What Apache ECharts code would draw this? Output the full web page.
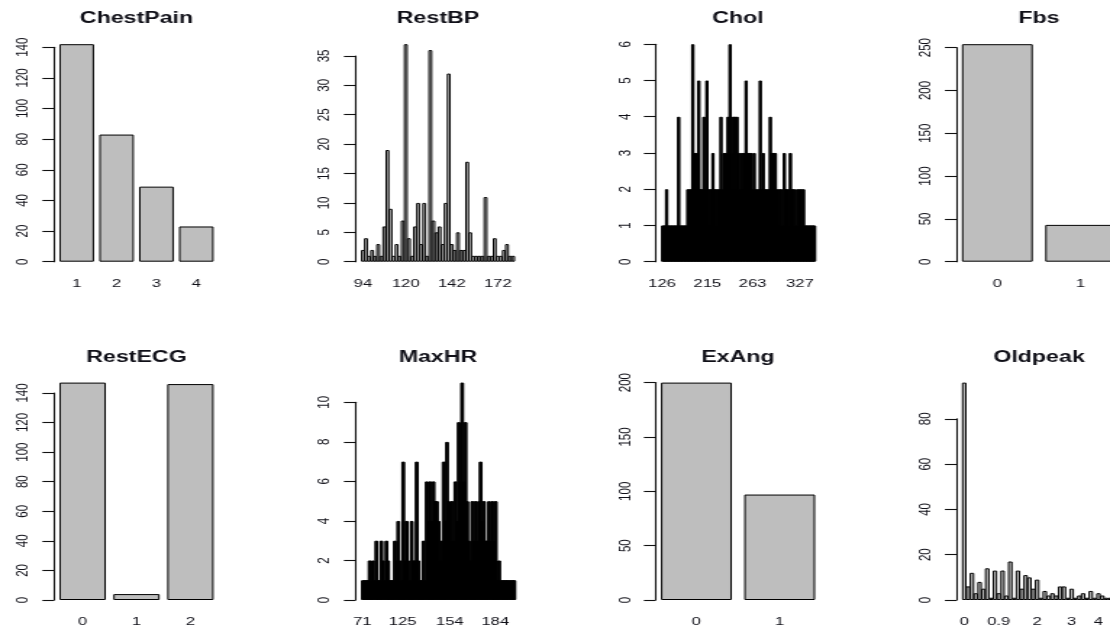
<!DOCTYPE html>
<html>
<head>
<meta charset="utf-8">
<script src="https://cdn.jsdelivr.net/npm/echarts@6/dist/echarts.min.js"></script>
<style>
  html, body { margin: 0; padding: 0; background: #fff; overflow: hidden; }
  /* the figure is laid out on a narrower surface and widened horizontally */
  #chart { width: 766px; height: 630px; transform: scaleX(1.44909); transform-origin: 0 0; }
</style>
</head>
<body>
<div id="chart"></div>
<script>
// ---- frequency tables of the Heart data (one bar per observed level) ----
const chestPainLevels = ['1', '2', '3', '4'];
const chestPainCounts = [142, 83, 49, 23];

const restBPLevels = [94, 100, 101, 102, 104, 105, 106, 108, 110, 112,
  114, 115, 117, 118, 120, 122, 123, 124, 125, 126,
  128, 129, 130, 132, 134, 135, 136, 138, 140, 142,
  144, 145, 146, 148, 150, 152, 154, 155, 156, 158,
  160, 164, 165, 170, 172, 174, 178, 180, 192, 200];
const restBPCounts = [2, 4, 1, 2, 1, 3, 1, 6, 19, 9,
  1, 3, 1, 7, 37, 4, 1, 6, 10, 3,
  10, 1, 36, 7, 5, 6, 3, 10, 32, 3,
  2, 5, 2, 2, 17, 5, 1, 1, 1, 1,
  11, 1, 1, 4, 1, 1, 2, 3, 1, 1];
const restBPShown = [0, 14, 29, 44];

const cholLevels = [126, 131, 141, 149, 157, 160, 164, 166, 167, 168,
  169, 172, 174, 175, 176, 177, 178, 180, 182, 183,
  184, 185, 186, 187, 188, 192, 193, 195, 196, 197,
  198, 199, 200, 201, 203, 204, 205, 206, 207, 208,
  209, 210, 211, 212, 213, 215, 216, 217, 218, 219,
  220, 221, 222, 223, 224, 225, 226, 227, 228, 229,
  230, 231, 232, 233, 234, 235, 236, 237, 239, 240,
  241, 242, 243, 244, 245, 246, 247, 248, 249, 250,
  252, 253, 254, 255, 256, 257, 258, 259, 260, 261,
  263, 264, 265, 266, 267, 268, 269, 270, 271, 273,
  274, 275, 276, 277, 278, 281, 282, 283, 284, 286,
  288, 289, 290, 293, 294, 295, 298, 299, 300, 302,
  303, 304, 305, 306, 307, 308, 309, 311, 313, 315,
  316, 318, 319, 321, 322, 325, 326, 327, 330, 335,
  340, 341, 342, 353, 354, 360, 369, 394, 407, 409,
  417, 564];
const cholCounts = [1, 1, 1, 1, 2, 1, 1, 1, 1, 1,
  1, 1, 1, 1, 1, 1, 4, 1, 1, 1,
  1, 1, 1, 1, 1, 2, 1, 2, 1, 2,
  6, 3, 2, 3, 2, 3, 5, 2, 2, 1,
  2, 4, 2, 1, 5, 2, 1, 2, 1, 2,
  3, 2, 1, 2, 1, 2, 1, 2, 4, 2,
  1, 3, 2, 3, 2, 4, 2, 6, 3, 2,
  4, 2, 4, 2, 4, 2, 3, 2, 2, 3,
  2, 3, 2, 5, 3, 2, 3, 2, 3, 2,
  1, 3, 2, 1, 2, 1, 2, 5, 2, 1,
  3, 2, 2, 1, 2, 1, 2, 4, 2, 3,
  3, 2, 3, 1, 2, 1, 2, 1, 2, 1,
  1, 3, 2, 2, 1, 2, 1, 3, 2, 2,
  1, 2, 1, 1, 2, 1, 2, 1, 2, 1,
  2, 1, 1, 1, 1, 1, 1, 1, 1, 1,
  1, 1];
const cholShown = [0, 45, 90, 137];

const fbsLevels = ['0', '1'];
const fbsCounts = [254, 43];

const restECGLevels = ['0', '1', '2'];
const restECGCounts = [147, 4, 146];

const maxHRLevels = [71, 88, 90, 95, 97, 99, 103, 105, 106, 108,
  109, 111, 112, 113, 114, 115, 116, 117, 118, 120,
  121, 122, 123, 124, 125, 126, 127, 128, 129, 130,
  131, 132, 133, 134, 136, 137, 138, 139, 140, 141,
  142, 143, 144, 145, 146, 147, 148, 149, 150, 151,
  152, 153, 154, 155, 156, 157, 158, 159, 160, 161,
  162, 163, 164, 165, 166, 167, 168, 169, 170, 171,
  172, 173, 174, 175, 177, 178, 179, 180, 182, 184,
  185, 186, 187, 188, 189, 190, 191, 192, 194, 195, 202];
const maxHRCounts = [1, 1, 1, 1, 2, 1, 2, 1, 3, 1,
  1, 3, 2, 1, 3, 2, 1, 1, 1, 3,
  2, 4, 2, 1, 7, 2, 4, 2, 1, 4,
  2, 2, 7, 2, 1, 1, 3, 1, 6, 4,
  6, 4, 6, 5, 5, 4, 2, 3, 7, 4,
  8, 5, 3, 5, 3, 6, 4, 9, 6, 11,
  6, 9, 5, 3, 2, 5, 3, 5, 3, 5,
  7, 4, 5, 3, 3, 5, 3, 5, 3, 5,
  1, 2, 1, 1, 1, 1, 1, 1, 1, 1, 1];
const maxHRShown = [0, 24, 52, 79];

const exAngLevels = ['0', '1'];
const exAngCounts = [200, 97];

const oldpeakLevels = [0, 0.1, 0.2, 0.3, 0.4, 0.5, 0.6, 0.7, 0.8, 0.9,
  1, 1.1, 1.2, 1.3, 1.4, 1.5, 1.6, 1.8, 1.9, 2,
  2.1, 2.2, 2.3, 2.4, 2.5, 2.6, 2.8, 2.9, 3, 3.1,
  3.2, 3.4, 3.5, 3.6, 3.8, 4, 4.2, 4.4, 5.6, 6.2];
const oldpeakCounts = [96, 6, 12, 3, 8, 5, 14, 1, 13, 3,
  13, 2, 17, 1, 13, 5, 11, 10, 5, 9,
  1, 4, 2, 3, 2, 6, 6, 1, 5, 1,
  2, 3, 1, 4, 1, 3, 2, 1, 1, 1];
const oldpeakShown = [0, 9, 19, 28, 35];

// y-axis tick ranges (last tick, step)
const yTicks = {
  ChestPain: [140, 20], RestBP: [35, 5], Chol: [6, 1], Fbs: [250, 50],
  RestECG: [140, 20], MaxHR: [10, 2], ExAng: [200, 50], Oldpeak: [80, 20]
};

// ---- panel layout (2 rows x 4 columns) ----
const S = 1110 / 766;                         // horizontal widening factor
const colAxisX = [54, 355.5, 655.5, 956.5].map(x => x / S);
const plotW = 165 / S;                        // plot region width
const dataW = plotW / 1.08;                   // bars span, 4% padding each side
const edge = 0.04 * dataW;
const baseY = [261.7, 600];                   // zero line of each row
const peakY = [44.2, 382.6];                  // top of the tallest bar in each row
const titleTop = [10.5, 349.5];
const LW = 1;                                 // bar outline width

const FONT = 'Liberation Sans';
const INK = '#101018';

// in the crowded panels the outlines run together, so the bars read as solid black
const panels = [
  { title: 'ChestPain', cats: chestPainLevels, counts: chestPainCounts, shown: null, row: 0, col: 0, dense: false },
  { title: 'RestBP', cats: restBPLevels, counts: restBPCounts, shown: restBPShown, row: 0, col: 1, dense: false },
  { title: 'Chol', cats: cholLevels, counts: cholCounts, shown: cholShown, row: 0, col: 2, dense: true },
  { title: 'Fbs', cats: fbsLevels, counts: fbsCounts, shown: null, row: 0, col: 3, dense: false },
  { title: 'RestECG', cats: restECGLevels, counts: restECGCounts, shown: null, row: 1, col: 0, dense: false },
  { title: 'MaxHR', cats: maxHRLevels, counts: maxHRCounts, shown: maxHRShown, row: 1, col: 1, dense: true },
  { title: 'ExAng', cats: exAngLevels, counts: exAngCounts, shown: null, row: 1, col: 2, dense: false },
  { title: 'Oldpeak', cats: oldpeakLevels, counts: oldpeakCounts, shown: oldpeakShown, row: 1, col: 3, dense: false }
];

const option = { animation: false, title: [], grid: [], xAxis: [], yAxis: [], series: [] };

panels.forEach((p, i) => {
  const n = p.cats.length;
  const pitch = dataW / (n - 1 / 6);          // bar width : gap = 1 : 0.2
  const axisX = colAxisX[p.col];
  const left = axisX + edge - pitch / 12;
  const [lastTick, step] = yTicks[p.title];
  const maxVal = Math.max(...p.counts);
  const base = baseY[p.row];
  const top = base - (base - peakY[p.row]) * lastTick / maxVal;

  option.title.push({
    text: p.title,
    left: axisX + plotW / 2,
    top: titleTop[p.row],
    textAlign: 'center',
    padding: 0,
    textStyle: { fontFamily: FONT, fontWeight: 'bold', fontSize: 16, color: INK }
  });

  option.grid.push({
    left: left, top: top, width: n * pitch, height: base - top,
    containLabel: false, outerBoundsMode: 'none'
  });

  const shown = p.shown;
  option.xAxis.push({
    gridIndex: i,
    type: 'category',
    data: p.cats.map(String),
    axisLine: { show: false },
    axisTick: { show: false },
    splitLine: { show: false },
    axisLabel: {
      interval: shown ? (idx) => shown.indexOf(idx) >= 0 : 0,
      margin: 16,
      hideOverlap: false,
      fontFamily: FONT, fontSize: 11.5, color: INK
    }
  });

  option.yAxis.push({
    gridIndex: i,
    type: 'value',
    min: 0, max: lastTick, interval: step,
    offset: left - axisX,
    axisLine: { show: true, onZero: false, lineStyle: { color: '#111', width: 1.1 } },
    axisTick: { show: true, length: 8, lineStyle: { color: '#111', width: 1.1 } },
    splitLine: { show: false },
    axisLabel: {
      rotate: 90, margin: 21, align: 'center', verticalAlign: 'middle',
      fontFamily: FONT, fontSize: 11.5, color: INK
    }
  });

  const style = p.dense
    ? { color: '#000', borderColor: '#000', borderWidth: LW,
        shadowColor: '#000', shadowBlur: 0.3, shadowOffsetX: 0.8, shadowOffsetY: 0 }
    : { color: '#bebebe', borderColor: '#000', borderWidth: LW };

  option.series.push({
    type: 'bar',
    name: p.title,
    xAxisIndex: i, yAxisIndex: i,
    data: p.counts,
    barWidth: pitch / 1.2 + LW,
    clip: false,
    silent: true,
    itemStyle: style
  });
});

const chart = echarts.init(document.getElementById('chart'), null, { renderer: 'canvas' });
chart.setOption(option);
</script>
</body>
</html>
